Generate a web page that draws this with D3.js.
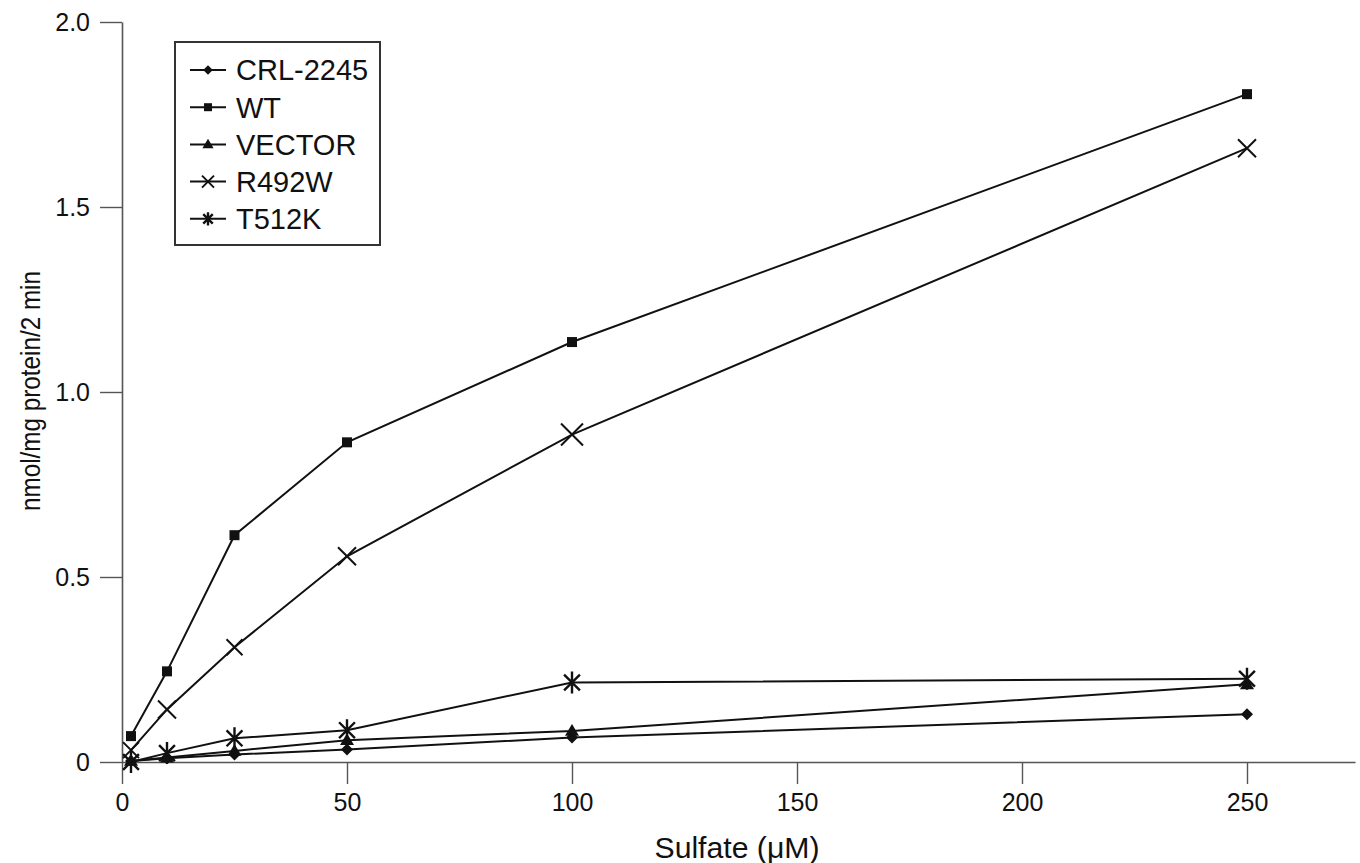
<!DOCTYPE html>
<html>
<head>
<meta charset="utf-8">
<script src="https://cdn.jsdelivr.net/npm/d3@7"></script>
<style>
  body { margin: 0; background: #fff; }
  svg { display: block; font-family: "Liberation Sans", Arial, sans-serif; }
</style>
</head>
<body>
<div id="chart"></div>
<script>
// Sulfate concentrations (uM)
const sulfate = [2, 10, 25, 50, 100, 250];

// uptake, nmol/mg protein/2 min
const crl2245 = [0.003, 0.010, 0.020, 0.034, 0.066, 0.129];
const wt      = [0.070, 0.245, 0.613, 0.864, 1.135, 1.805];
const vector  = [0.003, 0.012, 0.030, 0.059, 0.084, 0.210];
const r492w   = [0.032, 0.142, 0.310, 0.556, 0.885, 1.659];
const t512k   = [0.000, 0.024, 0.064, 0.086, 0.215, 0.225];

const seriesNames = ["CRL-2245", "WT", "VECTOR", "R492W", "T512K"];
const seriesValues = [crl2245, wt, vector, r492w, t512k];
const seriesMarkers = ["diamond", "square", "triangle", "cross", "asterisk"];

const xTicks = [0, 50, 100, 150, 200, 250];
const yTicks = [0, 0.5, 1.0, 1.5, 2.0];

const width = 1360, height = 863;

const svg = d3.select("#chart").append("svg")
    .attr("width", width)
    .attr("height", height);

const x = d3.scaleLinear().domain([0, 274]).range([122, 1355]);
const y = d3.scaleLinear().domain([0, 2]).range([762, 22]);

// axes
const axisColor = "#555";
svg.append("g")
    .attr("transform", `translate(0,${y(0)})`)
    .call(d3.axisBottom(x).tickValues(xTicks).tickSize(22).tickSizeOuter(0).tickPadding(9))
    .call(g => g.selectAll(".domain").attr("stroke", axisColor).attr("stroke-width", 1.6))
    .call(g => g.selectAll(".tick line").attr("stroke", axisColor).attr("stroke-width", 1.4))
    .call(g => g.selectAll(".tick text").attr("fill", "#111").style("font-size", "25px"));

svg.append("g")
    .attr("transform", `translate(${x(0)},0)`)
    .call(d3.axisLeft(y).tickValues(yTicks).tickSize(22).tickSizeOuter(0).tickPadding(10)
        .tickFormat(d => d === 0 ? "0" : d3.format(".1f")(d)))
    .call(g => g.selectAll(".domain").attr("stroke", axisColor).attr("stroke-width", 1.6))
    .call(g => g.selectAll(".tick line").attr("stroke", axisColor).attr("stroke-width", 1.4))
    .call(g => g.selectAll(".tick text").attr("fill", "#111").style("font-size", "25px"));

// axis titles (condensed face imitated with textLength)
svg.append("text")
    .attr("x", 737).attr("y", 858)
    .attr("text-anchor", "middle")
    .attr("textLength", 165)
    .attr("lengthAdjust", "spacingAndGlyphs")
    .style("font-size", "29px")
    .attr("fill", "#111")
    .text("Sulfate (\u03BCM)");

svg.append("text")
    .attr("transform", "translate(40,391) rotate(-90)")
    .attr("text-anchor", "middle")
    .attr("textLength", 240)
    .attr("lengthAdjust", "spacingAndGlyphs")
    .style("font-size", "28px")
    .attr("fill", "#111")
    .text("nmol/mg protein/2 min");

// marker drawing
function drawMarker(g, type, cx, cy, s) {
    s = s || 1;
    if (type === "diamond") {
        const r = 6 * Math.min(1, s + 0.2);
        g.append("path").attr("d", `M${cx},${cy - r}L${cx + r},${cy}L${cx},${cy + r}L${cx - r},${cy}Z`).attr("fill", "#111");
    } else if (type === "square") {
        const r = 5 * Math.min(1, s + 0.2);
        g.append("rect").attr("x", cx - r).attr("y", cy - r).attr("width", 2 * r).attr("height", 2 * r).attr("fill", "#111");
    } else if (type === "triangle") {
        const r = 7 * Math.min(1, s + 0.2);
        g.append("path").attr("d", `M${cx},${cy - r}L${cx + r},${cy + r * 0.7}L${cx - r},${cy + r * 0.7}Z`).attr("fill", "#111");
    } else if (type === "cross") {
        const r = 10 * s;
        g.append("path").attr("d", `M${cx - r},${cy - r}L${cx + r},${cy + r}M${cx - r},${cy + r}L${cx + r},${cy - r}`)
            .attr("stroke", "#111").attr("stroke-width", 2);
    } else if (type === "asterisk") {
        const r = 11 * s;
        const d = r * 0.72;
        g.append("path").attr("d", `M${cx - d},${cy - d}L${cx + d},${cy + d}M${cx - d},${cy + d}L${cx + d},${cy - d}M${cx},${cy - r}L${cx},${cy + r}`)
            .attr("stroke", "#111").attr("stroke-width", 2.4);
    }
}

// per-point size of the R492W crosses as they appear in the figure
const crossScale = [0.8, 0.9, 0.8, 0.9, 1.1, 0.9];

const line = d3.line().x(d => x(d[0])).y(d => y(d[1]));

seriesValues.forEach((vals, i) => {
    const pts = sulfate.map((s, j) => [s, vals[j]]);
    svg.append("path")
        .datum(pts)
        .attr("d", line)
        .attr("fill", "none")
        .attr("stroke", "#111")
        .attr("stroke-width", 2);
    const g = svg.append("g");
    pts.forEach(([sx, sv], j) => {
        const s = seriesMarkers[i] === "cross" ? crossScale[j] : 1;
        drawMarker(g, seriesMarkers[i], x(sx), y(sv), s);
    });
});

// legend
const legend = svg.append("g");
legend.append("rect")
    .attr("x", 175).attr("y", 42).attr("width", 205).attr("height", 203)
    .attr("fill", "#fff").attr("stroke", "#333").attr("stroke-width", 2);

seriesNames.forEach((name, i) => {
    const cy = 70 + i * 37.2;
    legend.append("line")
        .attr("x1", 190).attr("x2", 226).attr("y1", cy).attr("y2", cy)
        .attr("stroke", "#111").attr("stroke-width", 2);
    drawMarker(legend, seriesMarkers[i], 208, cy, 0.6);
    legend.append("text")
        .attr("x", 236).attr("y", cy)
        .attr("dy", "0.36em")
        .style("font-size", "29px")
        .attr("fill", "#111")
        .text(name);
});
</script>
</body>
</html>
